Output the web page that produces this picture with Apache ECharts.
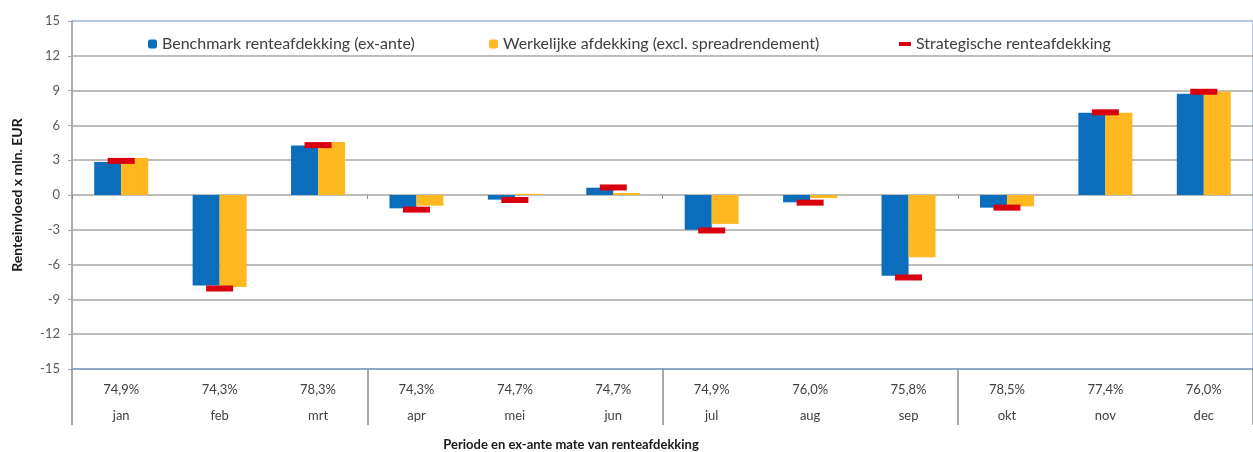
<!DOCTYPE html>
<html>
<head>
<meta charset="utf-8">
<script src="https://cdn.jsdelivr.net/npm/echarts@6/dist/echarts.min.js"></script>
<style>
  html, body { margin: 0; padding: 0; background: #fff; }
  #chart { width: 1253px; height: 452px; }
</style>
</head>
<body>
<div id="chart"></div>
<script>
// data
var months = ["jan", "feb", "mrt", "apr", "mei", "jun", "jul", "aug", "sep", "okt", "nov", "dec"];
var hedgeRatio = ["74,9%", "74,3%", "78,3%", "74,3%", "74,7%", "74,7%", "74,9%", "76,0%", "75,8%", "78,5%", "77,4%", "76,0%"];
var benchmark = [2.85, -7.8, 4.26, -1.15, -0.4, 0.63, -3.0, -0.63, -6.97, -1.09, 7.1, 8.72];
var werkelijk = [3.2, -7.94, 4.56, -0.92, 0.1, 0.17, -2.49, -0.26, -5.37, -0.98, 7.1, 8.92];
var strategisch = [2.94, -8.06, 4.3, -1.26, -0.43, 0.65, -3.06, -0.66, -7.11, -1.09, 7.13, 8.9];
var quarters = ["Q1", "Q2", "Q3", "Q4"];
var yTicks = { min: -15, max: 15, interval: 3 };

var names = [
  "Benchmark renteafdekking (ex-ante)",
  "Werkelijke afdekking (excl. spreadrendement)",
  "Strategische renteafdekking"
];

var font = "Lato, 'Open Sans', sans-serif";
var legendText = { fontFamily: font, fontSize: 16, color: "#404040" };

var catLabels = months.map(function (m, i) { return hedgeRatio[i] + "\n" + m; });

var option = {
  animation: false,
  grid: {
    left: 72, right: 0, top: 21, bottom: 83,
    show: true,
    borderColor: "#9db6d4",
    borderWidth: 1.5
  },
  // one legend per item so every entry sits where it does in the picture
  legend: [
    { data: [names[0]], left: 143, top: 31, itemWidth: 9, itemHeight: 9, itemGap: 4, textStyle: legendText, selectedMode: false },
    { data: [names[1]], left: 484, top: 31, itemWidth: 9, itemHeight: 9, itemGap: 4, textStyle: legendText, selectedMode: false },
    { data: [names[2]], left: 894, top: 31, itemWidth: 12, itemHeight: 4, itemGap: 4, textStyle: legendText, selectedMode: false, icon: "rect" }
  ],
  xAxis: [
    {
      type: "category",
      data: catLabels,
      position: "bottom",
      axisLine: { onZero: false, lineStyle: { color: "#8eaacb", width: 2 } },
      axisTick: { show: false },
      axisLabel: { margin: 8, lineHeight: 26, fontFamily: font, fontSize: 13, color: "#404040" }
    },
    {
      // quarter separators below the axis
      type: "category",
      data: quarters,
      position: "bottom",
      axisLine: { show: true, onZero: false, lineStyle: { color: "rgba(0,0,0,0)" } },
      axisTick: { show: true, interval: 0, length: 56, lineStyle: { color: "#8c8c8c", width: 1.5 } },
      axisLabel: { show: false }
    },
    {
      // small quarter ticks on the zero line
      type: "category",
      data: quarters,
      position: "bottom",
      axisLine: { show: true, onZero: true, lineStyle: { color: "rgba(0,0,0,0)" } },
      axisTick: { show: true, interval: 0, length: 4, lineStyle: { color: "#8c8c8c" } },
      axisLabel: { show: false }
    }
  ],
  yAxis: {
    type: "value",
    min: yTicks.min,
    max: yTicks.max,
    interval: yTicks.interval,
    name: "Renteinvloed x mln. EUR",
    nameLocation: "middle",
    nameGap: 48,
    nameTextStyle: { fontFamily: font, fontSize: 14, fontWeight: "bold", color: "#1a1a1a" },
    axisLine: { show: true, lineStyle: { color: "#a6a6a6", width: 1.5 } },
    axisTick: { show: true, length: 4, lineStyle: { color: "#a6a6a6" } },
    axisLabel: { margin: 12, fontFamily: font, fontSize: 13, color: "#595959" },
    splitLine: { showMinLine: false, showMaxLine: false, lineStyle: { color: "#a6a6a6", width: 1.5 } }
  },
  graphic: [
    {
      type: "text",
      x: 571,
      y: 445,
      style: {
        text: "Periode en ex-ante mate van renteafdekking",
        font: "bold 13px " + font,
        fill: "#1a1a1a",
        align: "center",
        verticalAlign: "middle"
      }
    }
  ],
  series: [
    {
      name: names[0],
      type: "bar",
      data: benchmark,
      barWidth: 27,
      barGap: "0%",
      itemStyle: { color: "#0a6ebd" }
    },
    {
      name: names[1],
      type: "bar",
      data: werkelijk,
      barWidth: 27,
      barGap: "0%",
      itemStyle: { color: "#ffb81f" }
    },
    {
      name: names[2],
      type: "scatter",
      data: strategisch,
      symbol: "rect",
      symbolSize: [27, 6],
      z: 5,
      itemStyle: { color: "#d8000f", opacity: 1 }
    }
  ]
};

var myChart = echarts.init(document.getElementById("chart"));
myChart.setOption(option);
</script>
</body>
</html>
